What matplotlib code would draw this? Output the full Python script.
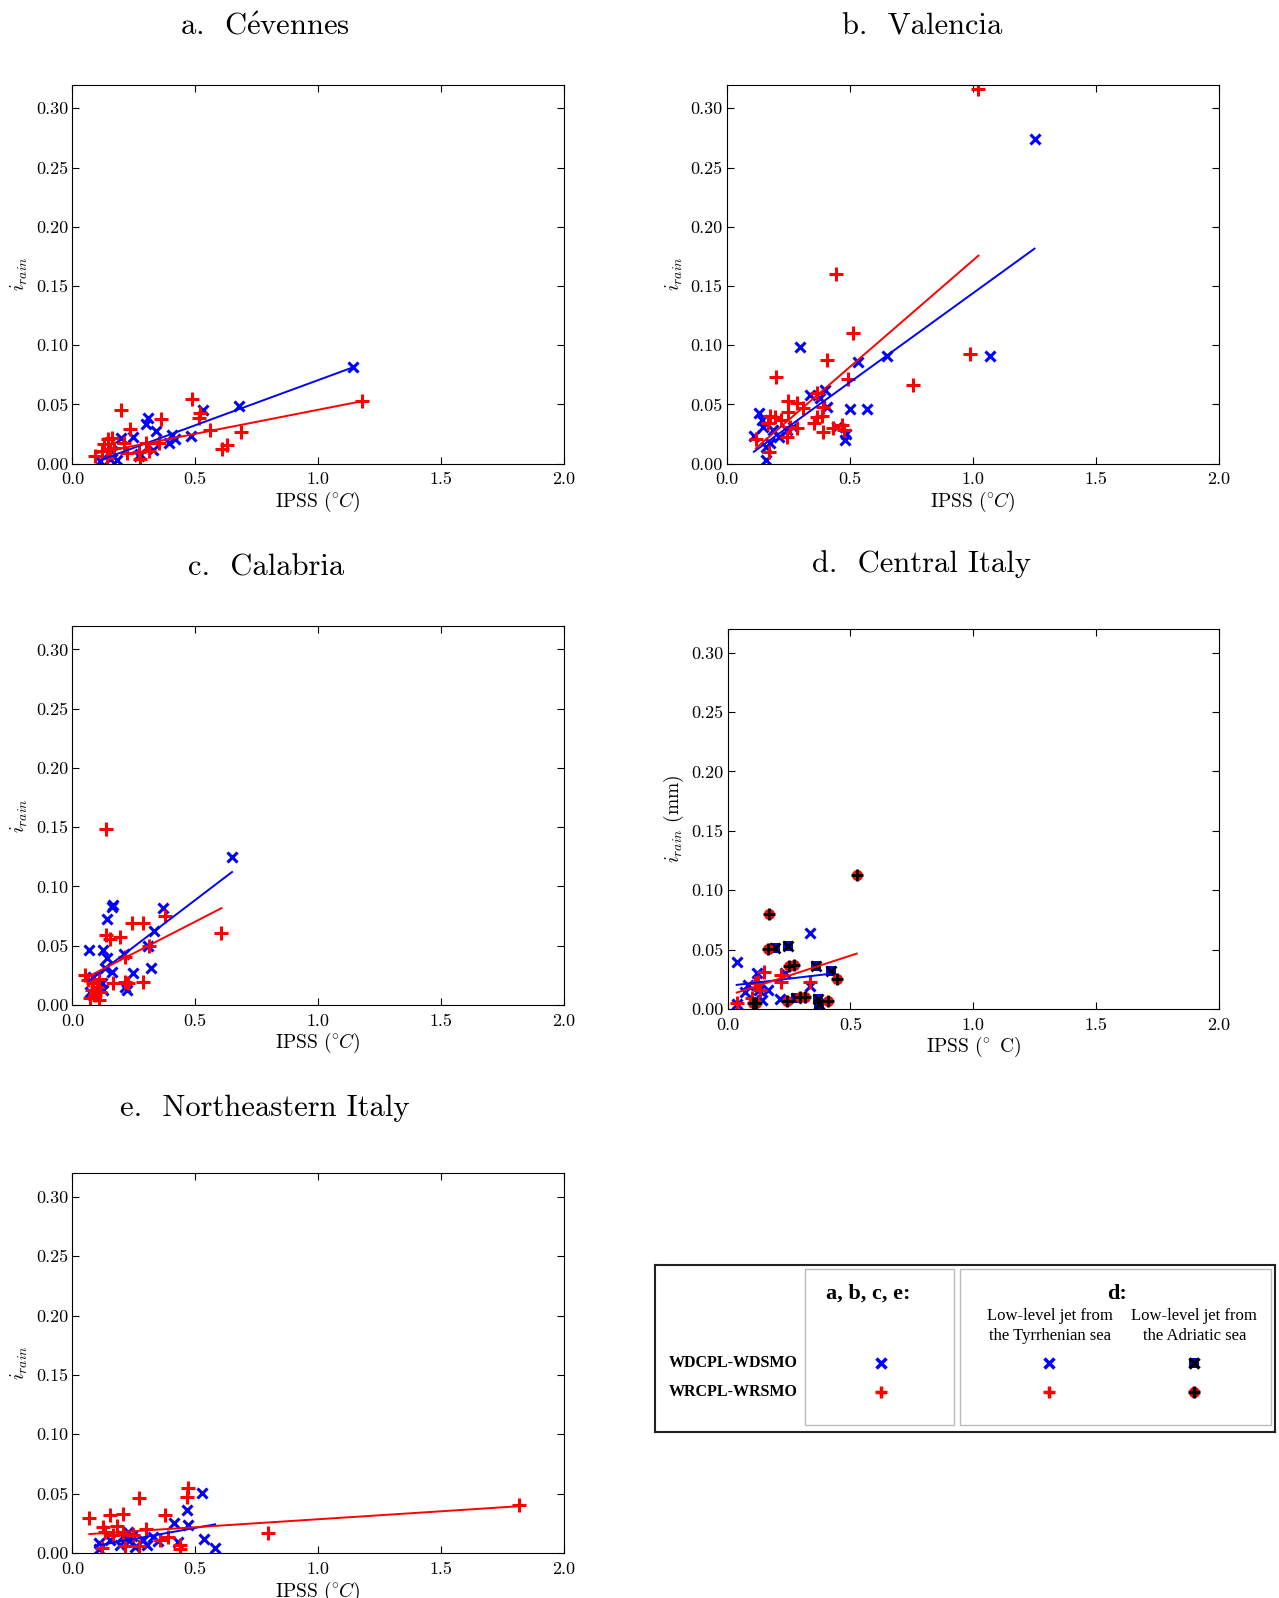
import numpy as np
import matplotlib
matplotlib.use('Agg')
import matplotlib.pyplot as plt
from matplotlib.patches import Rectangle

plt.rcParams['font.family'] = 'serif'
plt.rcParams['font.serif'] = ['cmr10']
plt.rcParams['mathtext.fontset'] = 'cm'
plt.rcParams['axes.unicode_minus'] = False

# a. Cevennes
a_wd_x = [1.144, 0.679, 0.530, 0.306, 0.301, 0.340, 0.247, 0.199, 0.407, 0.394, 0.482, 0.417,
          0.327, 0.276, 0.182, 0.154, 0.114, 0.161, 0.270]
a_wd_y = [0.0815, 0.0486, 0.045, 0.0388, 0.0331, 0.0275, 0.0228, 0.0219, 0.0239, 0.0177, 0.0233, 0.0205,
          0.0115, 0.0079, 0.003, 0.0037, 0.0022, 0.0107, 0.0065]
a_wr_x = [1.178, 0.489, 0.514, 0.520, 0.199, 0.360, 0.236, 0.561, 0.687, 0.629, 0.611, 0.354, 0.301,
          0.209, 0.145, 0.161, 0.127, 0.154, 0.222, 0.270, 0.274, 0.093, 0.121, 0.168, 0.310, 0.141]
a_wr_y = [0.0528, 0.0548, 0.0388, 0.043, 0.0452, 0.0379, 0.0289, 0.0281, 0.0267, 0.0154, 0.0121, 0.0177,
          0.0177, 0.0171, 0.0205, 0.0219, 0.0163, 0.0121, 0.0087, 0.0098, 0.0037, 0.0065, 0.0107, 0.0135,
          0.0107, 0.005]
a_wd_fit = (0.0761, -0.0056)
a_wr_fit = (0.0406, 0.0049)

# b. Valencia
b_wd_x = [0.298, 0.133, 0.145, 0.149, 0.111, 0.190, 0.176, 0.160, 0.159, 0.214, 0.244, 0.268, 0.339,
          0.400, 0.379, 0.409, 0.501, 0.569, 0.535, 0.650, 0.447, 0.485, 0.481, 1.251, 1.069]
b_wd_y = [0.0983, 0.0431, 0.0369, 0.0307, 0.0234, 0.0285, 0.0177, 0.0138, 0.0031, 0.0223, 0.0285, 0.0307,
          0.058, 0.0623, 0.0552, 0.0476, 0.0459, 0.0459, 0.0862, 0.091, 0.0313, 0.0251, 0.02, 0.2737, 0.0912]
b_wr_x = [0.515, 0.409, 0.199, 0.492, 0.756, 0.251, 0.287, 0.312, 0.251, 0.366, 0.393, 0.389, 0.369,
          0.356, 0.393, 0.434, 0.467, 0.477, 0.176, 0.197, 0.220, 0.169, 0.257, 0.247, 0.119, 0.173,
          0.285, 1.023, 0.990, 0.443]
b_wr_y = [0.1107, 0.0876, 0.0735, 0.0715, 0.0665, 0.0532, 0.0515, 0.0473, 0.0439, 0.0594, 0.0482, 0.0403,
          0.0397, 0.0341, 0.027, 0.0299, 0.0327, 0.0285, 0.0403, 0.0392, 0.0369, 0.0341, 0.0307, 0.0223,
          0.0206, 0.0101, 0.03, 0.3159, 0.093, 0.160]
b_wd_fit = (0.1504, -0.0066)
b_wr_fit = (0.1799, -0.0084)

# c. Calabria
c_wd_x = [0.650, 0.167, 0.163, 0.370, 0.142, 0.332, 0.309, 0.069, 0.123, 0.142, 0.210, 0.248, 0.160,
          0.318, 0.214, 0.221, 0.133, 0.085, 0.119, 0.072, 0.085, 0.126]
c_wd_y = [0.1251, 0.0844, 0.083, 0.0816, 0.0723, 0.0627, 0.0498, 0.0464, 0.0464, 0.0394, 0.043, 0.0273,
          0.0281, 0.0309, 0.0155, 0.0127, 0.0309, 0.0239, 0.0183, 0.0112, 0.0084, 0.0127]
c_wr_x = [0.137, 0.377, 0.607, 0.241, 0.289, 0.137, 0.153, 0.194, 0.313, 0.214, 0.051, 0.065, 0.085,
          0.110, 0.167, 0.214, 0.228, 0.286, 0.099, 0.079, 0.112, 0.072, 0.110, 0.092]
c_wr_y = [0.1485, 0.0751, 0.0605, 0.0689, 0.0689, 0.0591, 0.0554, 0.0577, 0.0498, 0.0408, 0.0253, 0.0211,
          0.0183, 0.0217, 0.0183, 0.0197, 0.0183, 0.0191, 0.0155, 0.0127, 0.0112, 0.0056, 0.0042, 0.0084]
c_wd_fit = (0.1578, 0.0096)
c_wr_fit = (0.1065, 0.0170)

# d. Central Italy (Tyrrhenian / Adriatic low-level jet)
d_wd_tyr_x = [0.334, 0.037, 0.118, 0.233, 0.084, 0.165, 0.337, 0.138, 0.212, 0.037, 0.0705, 0.128]
d_wd_tyr_y = [0.0636, 0.0397, 0.0299, 0.0305, 0.0201, 0.0159, 0.0193, 0.0075, 0.0081, 0.0041, 0.0145, 0.016]
d_wr_tyr_x = [0.149, 0.216, 0.219, 0.334, 0.124, 0.098, 0.037, 0.131, 0.110]
d_wr_tyr_y = [0.0313, 0.0285, 0.0229, 0.0229, 0.0229, 0.0089, 0.0047, 0.0159, 0.0215]
d_wd_adr_x = [0.192, 0.246, 0.361, 0.419, 0.280, 0.367, 0.374]
d_wd_adr_y = [0.0515, 0.0529, 0.0363, 0.0321, 0.0089, 0.0081, 0.0041]
d_wr_adr_x = [0.526, 0.168, 0.165, 0.249, 0.270, 0.446, 0.243, 0.314, 0.408, 0.104, 0.115, 0.293]
d_wr_adr_y = [0.1127, 0.0799, 0.0501, 0.0363, 0.0369, 0.0249, 0.0069, 0.0103, 0.0069, 0.0053, 0.0048, 0.0098]
d_wd_fit = (0.0246, 0.0193)
d_wr_fit = (0.0673, 0.0112)

# e. Northeastern Italy
e_wd_x = [0.528, 0.465, 0.469, 0.413, 0.535, 0.581, 0.110, 0.110, 0.153, 0.194, 0.228, 0.235, 0.255,
          0.289, 0.327, 0.350, 0.431, 0.207, 0.241, 0.302]
e_wd_y = [0.0503, 0.0362, 0.0236, 0.025, 0.0115, 0.0039, 0.0087, 0.0031, 0.011, 0.0067, 0.018, 0.011,
          0.0048, 0.011, 0.0138, 0.0101, 0.0096, 0.0143, 0.0143, 0.0067]
e_wr_x = [0.472, 0.465, 0.271, 0.069, 0.153, 0.207, 0.377, 0.126, 0.180, 0.133, 0.164, 0.207, 0.248,
          0.299, 0.356, 0.390, 0.440, 0.438, 0.272, 0.214, 0.119, 0.797, 1.818]
e_wr_y = [0.0545, 0.0475, 0.0461, 0.0292, 0.032, 0.0329, 0.032, 0.0222, 0.0228, 0.018, 0.0152, 0.016,
          0.0152, 0.0199, 0.011, 0.0138, 0.0067, 0.0031, 0.0059, 0.0059, 0.0039, 0.0171, 0.0404]
e_wd_fit = (0.0372, 0.0026)
e_wr_fit = (0.0134, 0.0151)

W, H = 1279, 1598
fig = plt.figure(figsize=(W / 100, H / 100), dpi=100)


def box(l, t, r, b):
    return [l / W, 1 - b / H, (r - l) / W, (b - t) / H]


def style(ax, xlab=r'IPSS ($\!^\circ\!C$)', ylab=r'$i_{rain}$'):
    ax.set_xlim(0, 2.0)
    ax.set_ylim(0, 0.32)
    ax.set_xticks([0.0, 0.5, 1.0, 1.5, 2.0])
    ax.set_yticks([0.0, 0.05, 0.10, 0.15, 0.20, 0.25, 0.30])
    ax.set_xticklabels(['0.0', '0.5', '1.0', '1.5', '2.0'])
    ax.set_yticklabels(['0.00', '0.05', '0.10', '0.15', '0.20', '0.25', '0.30'])
    ax.tick_params(direction='in', top=True, right=True, length=5, labelsize=13)
    ax.tick_params(axis='x', pad=6)
    ax.tick_params(axis='y', pad=3)
    ax.set_xlabel(xlab, fontsize=14, labelpad=2)
    ax.set_ylabel(ylab, fontsize=14, labelpad=4)


def fitline(ax, xs, fit, color):
    xs = np.array(xs)
    xx = np.array([xs.min(), xs.max()])
    ax.plot(xx, fit[0] * xx + fit[1], '-', color=color, lw=1.4)


def panel(rect, wdx, wdy, wrx, wry, wdfit, wrfit):
    ax = fig.add_axes(rect)
    ax.plot(wdx, wdy, 'x', color='blue', ms=7.5, mew=2.2)
    ax.plot(wrx, wry, '+', color='red', ms=9.5, mew=2.2)
    fitline(ax, wdx, wdfit, 'blue')
    fitline(ax, wrx, wrfit, 'red')
    style(ax)
    return ax


panel(box(72.4, 84.6, 563.6, 463.7), a_wd_x, a_wd_y, a_wr_x, a_wr_y, a_wd_fit, a_wr_fit)
panel(box(726.6, 84.6, 1218.9, 463.7), b_wd_x, b_wd_y, b_wr_x, b_wr_y, b_wd_fit, b_wr_fit)
panel(box(72.4, 625.7, 563.6, 1004.9), c_wd_x, c_wd_y, c_wr_x, c_wr_y, c_wd_fit, c_wr_fit)
panel(box(72.4, 1173.0, 563.6, 1553.1), e_wd_x, e_wd_y, e_wr_x, e_wr_y, e_wd_fit, e_wr_fit)

# panel d
axd = fig.add_axes(box(727.6, 628.8, 1219.0, 1008.9))
axd.plot(d_wd_tyr_x, d_wd_tyr_y, 'x', color='blue', ms=7.5, mew=2.2)
axd.plot(d_wr_tyr_x, d_wr_tyr_y, '+', color='red', ms=9.5, mew=2.2)
axd.plot(d_wd_adr_x, d_wd_adr_y, 's', color='blue', ms=7, mew=0)
axd.plot(d_wd_adr_x, d_wd_adr_y, 'x', color='black', ms=7, mew=2)
axd.plot(d_wr_adr_x, d_wr_adr_y, 'o', color='red', ms=8, mew=0)
axd.plot(d_wr_adr_x, d_wr_adr_y, '+', color='black', ms=8, mew=2)
fitline(axd, d_wd_tyr_x + d_wd_adr_x, d_wd_fit, 'blue')
fitline(axd, d_wr_tyr_x + d_wr_adr_x, d_wr_fit, 'red')
style(axd, xlab=r'IPSS ($\!^\circ$ C)', ylab=r'$i_{rain}$ (mm)')

# panel titles
fig.text(265 / W, 1 - 27 / H, r'a.  C$\acute{\rm e}$vennes', fontsize=22, ha='center', va='center')
fig.text(922 / W, 1 - 27 / H, 'b.  Valencia', fontsize=22, ha='center', va='center')
fig.text(266 / W, 1 - 567.5 / H, 'c.  Calabria', fontsize=22, ha='center', va='center')
fig.text(921 / W, 1 - 564 / H, 'd.  Central Italy', fontsize=22, ha='center', va='center')
fig.text(265 / W, 1 - 1108.5 / H, 'e.  Northeastern Italy', fontsize=22, ha='center', va='center')

# legend box
lg = fig.add_axes(box(655.3, 1264.7, 1274.9, 1431.9))
lg.set_xlim(0, 1)
lg.set_ylim(0, 1)
lg.set_xticks([])
lg.set_yticks([])
for s in lg.spines.values():
    s.set_linewidth(1.5)
    s.set_color('#222222')
lg.add_patch(Rectangle((0.2418, 0.043), 0.2401, 0.9325, fill=False, ec='#bbbbbb', lw=1))
lg.add_patch(Rectangle((0.4918, 0.043), 0.5016, 0.9325, fill=False, ec='#bbbbbb', lw=1))

lf = 'Liberation Serif'
lg.text(0.0213, 0.414, 'WDCPL-WDSMO', family=lf, weight='bold', fontsize=11.5, va='center')
lg.text(0.0213, 0.238, 'WRCPL-WRSMO', family=lf, weight='bold', fontsize=11.5, va='center')
lg.text(0.3438, 0.826, 'a, b, c, e:', family=lf, weight='bold', fontsize=16, ha='center', va='center')
lg.text(0.745, 0.823, 'd:', family=lf, weight='bold', fontsize=16, ha='center', va='center')
lg.text(0.6366, 0.632, 'Low-level jet from\nthe Tyrrhenian sea', family=lf, fontsize=12,
        ha='center', va='center', linespacing=1.3)
lg.text(0.870, 0.632, 'Low-level jet from\nthe Adriatic sea', family=lf, fontsize=12,
        ha='center', va='center', linespacing=1.3)

lg.plot([0.365], [0.414], 'x', color='blue', ms=7, mew=2.5)
lg.plot([0.365], [0.238], '+', color='red', ms=9, mew=2.5)
lg.plot([0.635], [0.414], 'x', color='blue', ms=7, mew=2.5)
lg.plot([0.635], [0.238], '+', color='red', ms=9, mew=2.5)
lg.plot([0.870], [0.414], 's', color='blue', ms=7, mew=0)
lg.plot([0.870], [0.414], 'x', color='black', ms=7, mew=2.5)
lg.plot([0.870], [0.238], 'o', color='red', ms=8, mew=0)
lg.plot([0.870], [0.238], '+', color='black', ms=8, mew=2.5)

fig.savefig('out.png', dpi=100)
